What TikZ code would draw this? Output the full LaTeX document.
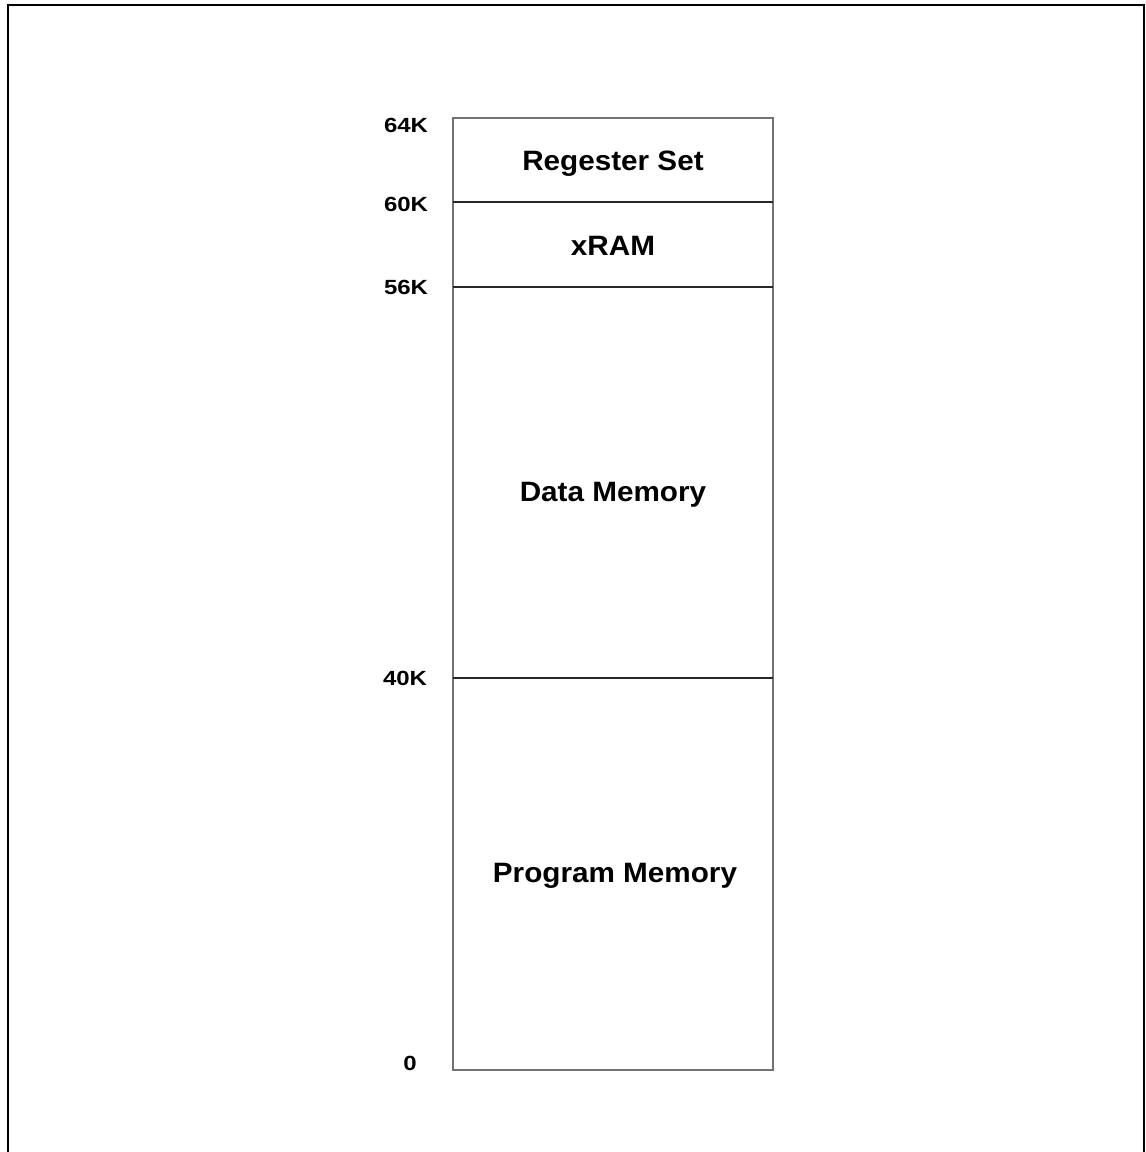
\documentclass[tikz,border=0pt]{standalone}
\usepackage{fontspec}
\setmainfont{Liberation Sans}
\newfontfamily\lblfont[FakeStretch=1.17]{Liberation Sans}
\newfontfamily\regfont[FakeStretch=1.06]{Liberation Sans}
\begin{document}
\begin{tikzpicture}[x=1pt,y=-1pt,
  lbl/.style={font=\lblfont\bfseries\fontsize{20.5}{24}\selectfont, inner sep=0pt, anchor=base},
  region/.style={font=\regfont\bfseries\fontsize{28}{32}\selectfont, inner sep=0pt, anchor=base},
  divider/.style={line width=1.2pt, draw=black!85},
  outline/.style={line width=1.4pt, draw=black!55}]
\useasboundingbox (0,0) rectangle (1146,1152);
% page frame (open at bottom)
\coordinate (fbl) at (8,1152);
\coordinate (ftl) at (8,5);
\coordinate (ftr) at (1144,5);
\coordinate (fbr) at (1144,1152);
\draw[line width=2.2pt] (fbl) -- (ftl) -- (ftr) -- (fbr);
% memory column
\coordinate (tl) at (453,118);
\coordinate (br) at (773,1070);
\draw[outline] (tl) rectangle (br);
\coordinate (d60l) at (453,202); \coordinate (d60r) at (773,202);
\coordinate (d56l) at (453,287); \coordinate (d56r) at (773,287);
\coordinate (d40l) at (453,678); \coordinate (d40r) at (773,678);
\draw[divider] (d60l) -- (d60r);
\draw[divider] (d56l) -- (d56r);
\draw[divider] (d40l) -- (d40r);
% region names
\node[region] (reg) at (613,170) {Regester Set};
\node[region] (xram) at (613,255) {xRAM};
\node[region] (data) at (613,501) {Data Memory};
\node[region] (prog) at (615,882) {Program Memory};
% address labels
\node[lbl] (a64) at (406,132) {64K};
\node[lbl] (a60) at (406,211) {60K};
\node[lbl] (a56) at (406,294) {56K};
\node[lbl] (a40) at (405,685) {40K};
\node[lbl] (a0) at (410,1070) {0};
\end{tikzpicture}
\end{document}
